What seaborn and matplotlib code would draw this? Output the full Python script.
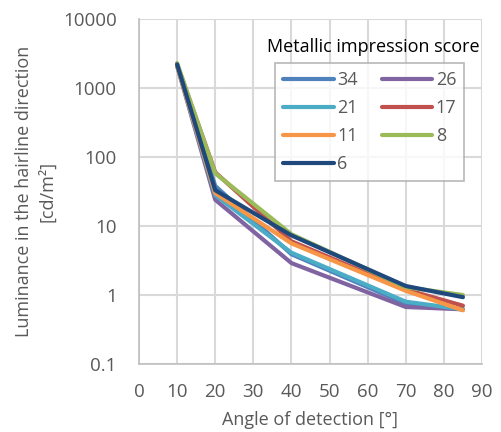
import pandas as pd
import matplotlib.pyplot as plt
import seaborn as sns

# --- Data ---
angles = [10, 20, 40, 70, 85]
score_34 = [2200, 38, 3.9, 0.75, 0.62]
score_26 = [2100, 24, 2.9, 0.67, 0.62]
score_21 = [2100, 28, 4.1, 0.80, 0.62]
score_17 = [2200, 60, 6.0, 1.20, 0.70]
score_11 = [2100, 30, 5.6, 1.15, 0.60]
score_8 = [2300, 58, 7.6, 1.30, 1.00]
score_6 = [2200, 33, 7.3, 1.35, 0.93]

scores = ['34', '26', '21', '17', '11', '8', '6']
series = [score_34, score_26, score_21, score_17, score_11, score_8, score_6]
colors = ['#4F81BD', '#8064A2', '#4BACC6', '#C0504D', '#F79646', '#9BBB59', '#1F497D']

rows = []
for s, vals in zip(scores, series):
    for a, v in zip(angles, vals):
        rows.append({'angle': a, 'luminance': v, 'score': s})
df = pd.DataFrame(rows)

# --- Style ---
sns.set_style("white")
plt.rcParams['font.family'] = ['Open Sans', 'DejaVu Sans']
grey = '#595959'

fig = plt.figure(figsize=(5.01, 4.32), dpi=100)
ax = fig.add_axes([139 / 501, 1 - 364 / 432, (482 - 139) / 501, (364 - 19) / 432])

palette = dict(zip(scores, colors))
sns.lineplot(data=df, x='angle', y='luminance', hue='score', hue_order=scores,
             palette=palette, linewidth=3, ax=ax, legend=False, zorder=3)

ax.set_yscale('log')
ax.set_ylim(0.1, 10000)
ax.set_xlim(0, 90)
ax.set_xticks(range(0, 91, 10))
ax.set_yticks([0.1, 1, 10, 100, 1000, 10000])
ax.set_yticklabels(['0.1', '1', '10', '100', '1000', '10000'])
ax.minorticks_off()
ax.grid(True, color='#D9D9D9', linewidth=1.5)
for side in ['top', 'right']:
    ax.spines[side].set_visible(False)
for side in ['left', 'bottom']:
    ax.spines[side].set_color('#BFBFBF')
    ax.spines[side].set_linewidth(1.2)
ax.tick_params(axis='both', length=0, labelsize=13.5, colors=grey)
ax.tick_params(axis='y', pad=16)
ax.tick_params(axis='x', pad=14)

ax.set_xlabel('Angle of detection [°]', fontsize=13, color=grey, labelpad=7)
ax.set_ylabel('Luminance in the hairline direction\n[cd/m²]', fontsize=13,
              color=grey, labelpad=5, linespacing=1.35)

# --- Legend: rows 34|26, 21|17, 11|8, 6 ---
handles = [plt.Line2D([], [], color=palette[s], linewidth=3) for s in scores]
order = [0, 2, 4, 6, 1, 3, 5]
leg = ax.legend([handles[i] for i in order], [scores[i] for i in order],
                ncol=2, loc='upper left', bbox_to_anchor=(0.397, 0.872),
                fontsize=13, frameon=True, fancybox=False, edgecolor='#A6A6A6',
                handlelength=2.8, handletextpad=0.2, columnspacing=1.3,
                labelspacing=0.55, borderpad=0.45, borderaxespad=0)
leg.get_frame().set_linewidth(1.2)
for t in leg.get_texts():
    t.set_color(grey)

fig.text(373 / 501, 1 - 47 / 432, 'Metallic impression score', ha='center', va='center',
         fontsize=13, color='black')

fig.savefig('out.png', dpi=100)
